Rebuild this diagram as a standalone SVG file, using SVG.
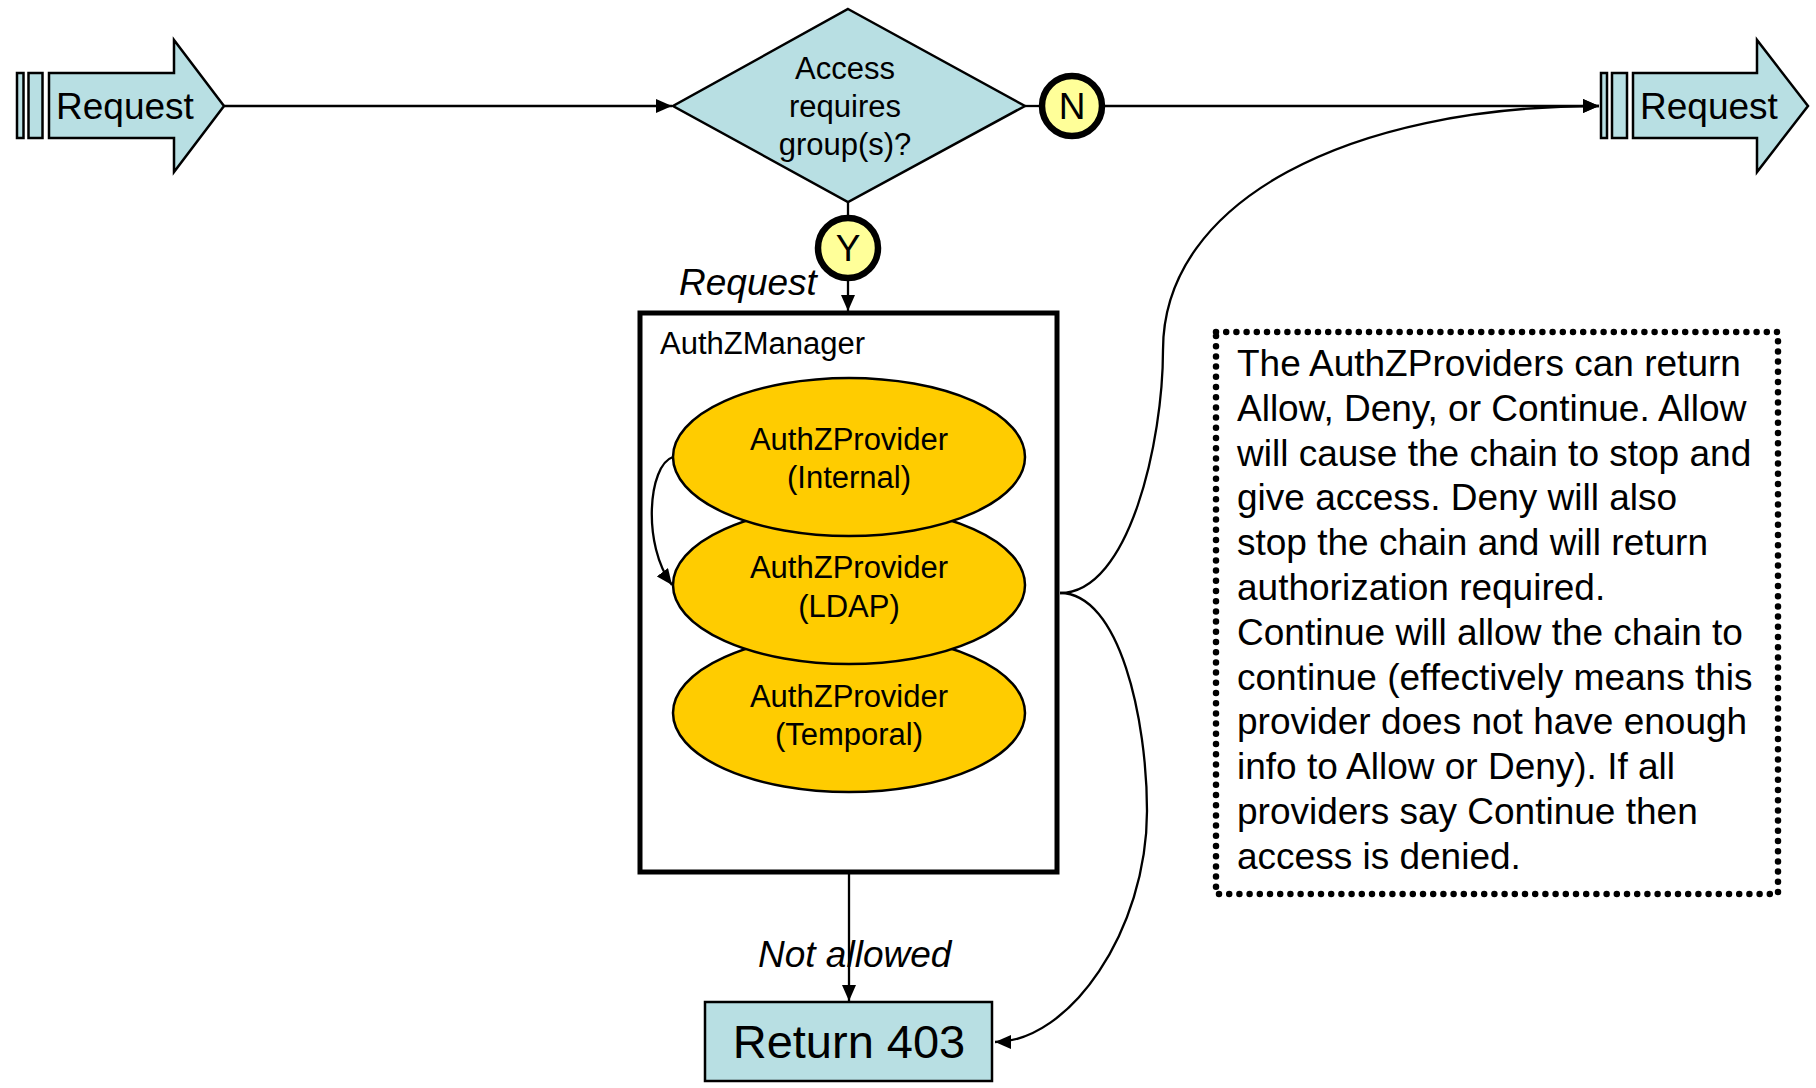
<svg xmlns="http://www.w3.org/2000/svg" width="1816" height="1088" viewBox="0 0 1816 1088">
<defs>
<style>
.t{font-family:"Liberation Sans",Arial,sans-serif;fill:#000}
.blue{fill:#B8DFE3;stroke:#000;stroke-width:2.5}
.prov{fill:#FFCC00;stroke:#000;stroke-width:2.5}
.yn{fill:#FFFF99;stroke:#000;stroke-width:6.5}
.c{fill:none;stroke:#000;stroke-width:2.3}
</style>
<marker id="a" viewBox="0 0 10 10" refX="10" refY="5" markerWidth="16" markerHeight="14" markerUnits="userSpaceOnUse" orient="auto" preserveAspectRatio="none">
<path d="M0,0 L10,5 L0,10 z" fill="#000"/>
</marker>
</defs>
<rect width="1816" height="1088" fill="#fff"/>

<g id="connectors">
<path class="c" d="M223,106 L672,106" marker-end="url(#a)"/>
<path class="c" d="M1025,106 L1040,106"/>
<path class="c" d="M1104,106 L1599,106" marker-end="url(#a)"/>
<path class="c" d="M848,202 L848,216"/>
<path class="c" d="M848,281 L848,311" marker-end="url(#a)"/>
<path class="c" d="M849,872 L849,1001" marker-end="url(#a)"/>
<path class="c" d="M1060,593 C1130,593 1163,440 1163,350 C1163,200 1350,106 1599,106" marker-end="url(#a)"/>
<path class="c" d="M1060,593 C1120,593 1147,720 1147,811 C1147,930 1070,1042 995,1042" marker-end="url(#a)"/>
</g>

<g id="request-in">
<rect class="blue" x="17" y="73" width="6.5" height="65"/>
<rect class="blue" x="28.5" y="73" width="14" height="65"/>
<path class="blue" d="M49,73 L174,73 L174,40 L224,106 L174,172 L174,138 L49,138 z"/>
<text class="t" x="56" y="119" font-size="37">Request</text>
</g>

<g id="decision">
<path class="blue" d="M848,9 L1025,106 L848,202 L673,106 z"/>
<text class="t" x="845" y="79" font-size="31" text-anchor="middle">Access</text>
<text class="t" x="845" y="117" font-size="31" text-anchor="middle">requires</text>
<text class="t" x="845" y="155" font-size="31" text-anchor="middle">group(s)?</text>
</g>

<g id="no">
<circle class="yn" cx="1072" cy="106" r="30"/>
<text class="t" x="1072" y="119" font-size="37" text-anchor="middle">N</text>
</g>

<g id="yes">
<circle class="yn" cx="848" cy="248" r="30"/>
<text class="t" x="848" y="261" font-size="37" text-anchor="middle">Y</text>
</g>

<g id="request-label">
<text class="t" x="679" y="295" font-size="37" font-style="italic">Request</text>
</g>

<g id="request-out">
<rect class="blue" x="1601" y="73" width="6" height="65"/>
<rect class="blue" x="1612" y="73" width="15" height="65"/>
<path class="blue" d="M1633,73 L1757,73 L1757,40 L1808,106 L1757,172 L1757,138 L1633,138 z"/>
<text class="t" x="1640" y="119" font-size="37">Request</text>
</g>

<g id="authz-manager">
<rect x="640" y="313" width="417" height="559" fill="#fff" stroke="#000" stroke-width="5"/>
<text class="t" x="660" y="354" font-size="31">AuthZManager</text>
</g>

<g id="provider-temporal">
<ellipse class="prov" cx="849" cy="713" rx="176" ry="79"/>
<text class="t" x="849" y="707" font-size="31" text-anchor="middle">AuthZProvider</text>
<text class="t" x="849" y="745" font-size="31" text-anchor="middle">(Temporal)</text>
</g>

<g id="provider-ldap">
<ellipse class="prov" cx="849" cy="585" rx="176" ry="79"/>
<text class="t" x="849" y="578" font-size="31" text-anchor="middle">AuthZProvider</text>
<text class="t" x="849" y="617" font-size="31" text-anchor="middle">(LDAP)</text>
</g>

<g id="provider-internal">
<ellipse class="prov" cx="849" cy="457" rx="176" ry="79"/>
<text class="t" x="849" y="450" font-size="31" text-anchor="middle">AuthZProvider</text>
<text class="t" x="849" y="488" font-size="31" text-anchor="middle">(Internal)</text>
</g>

<g id="chain-loop">
<path class="c" d="M673,457 C648,465 642,545 672,585" marker-end="url(#a)"/>
</g>

<g id="not-allowed-label">
<text class="t" x="758" y="967" font-size="37" font-style="italic">Not allowed</text>
</g>

<g id="return-403">
<rect class="blue" x="705" y="1002" width="287" height="79"/>
<text class="t" x="849" y="1058" font-size="47" text-anchor="middle">Return 403</text>
</g>

<g id="note">
<rect x="1216" y="332" width="562" height="562" fill="none" stroke="#000" stroke-width="6.5" stroke-linecap="round" stroke-dasharray="0 10.2"/>
<g class="t" font-size="37">
<text x="1237" y="376">The AuthZProviders can return</text>
<text x="1237" y="421">Allow, Deny, or Continue. Allow</text>
<text x="1237" y="466">will cause the chain to stop and</text>
<text x="1237" y="510">give access. Deny will also</text>
<text x="1237" y="555">stop the chain and will return</text>
<text x="1237" y="600">authorization required.</text>
<text x="1237" y="645">Continue will allow the chain to</text>
<text x="1237" y="690">continue (effectively means this</text>
<text x="1237" y="734">provider does not have enough</text>
<text x="1237" y="779">info to Allow or Deny). If all</text>
<text x="1237" y="824">providers say Continue then</text>
<text x="1237" y="869">access is denied.</text>
</g>
</g>
</svg>
